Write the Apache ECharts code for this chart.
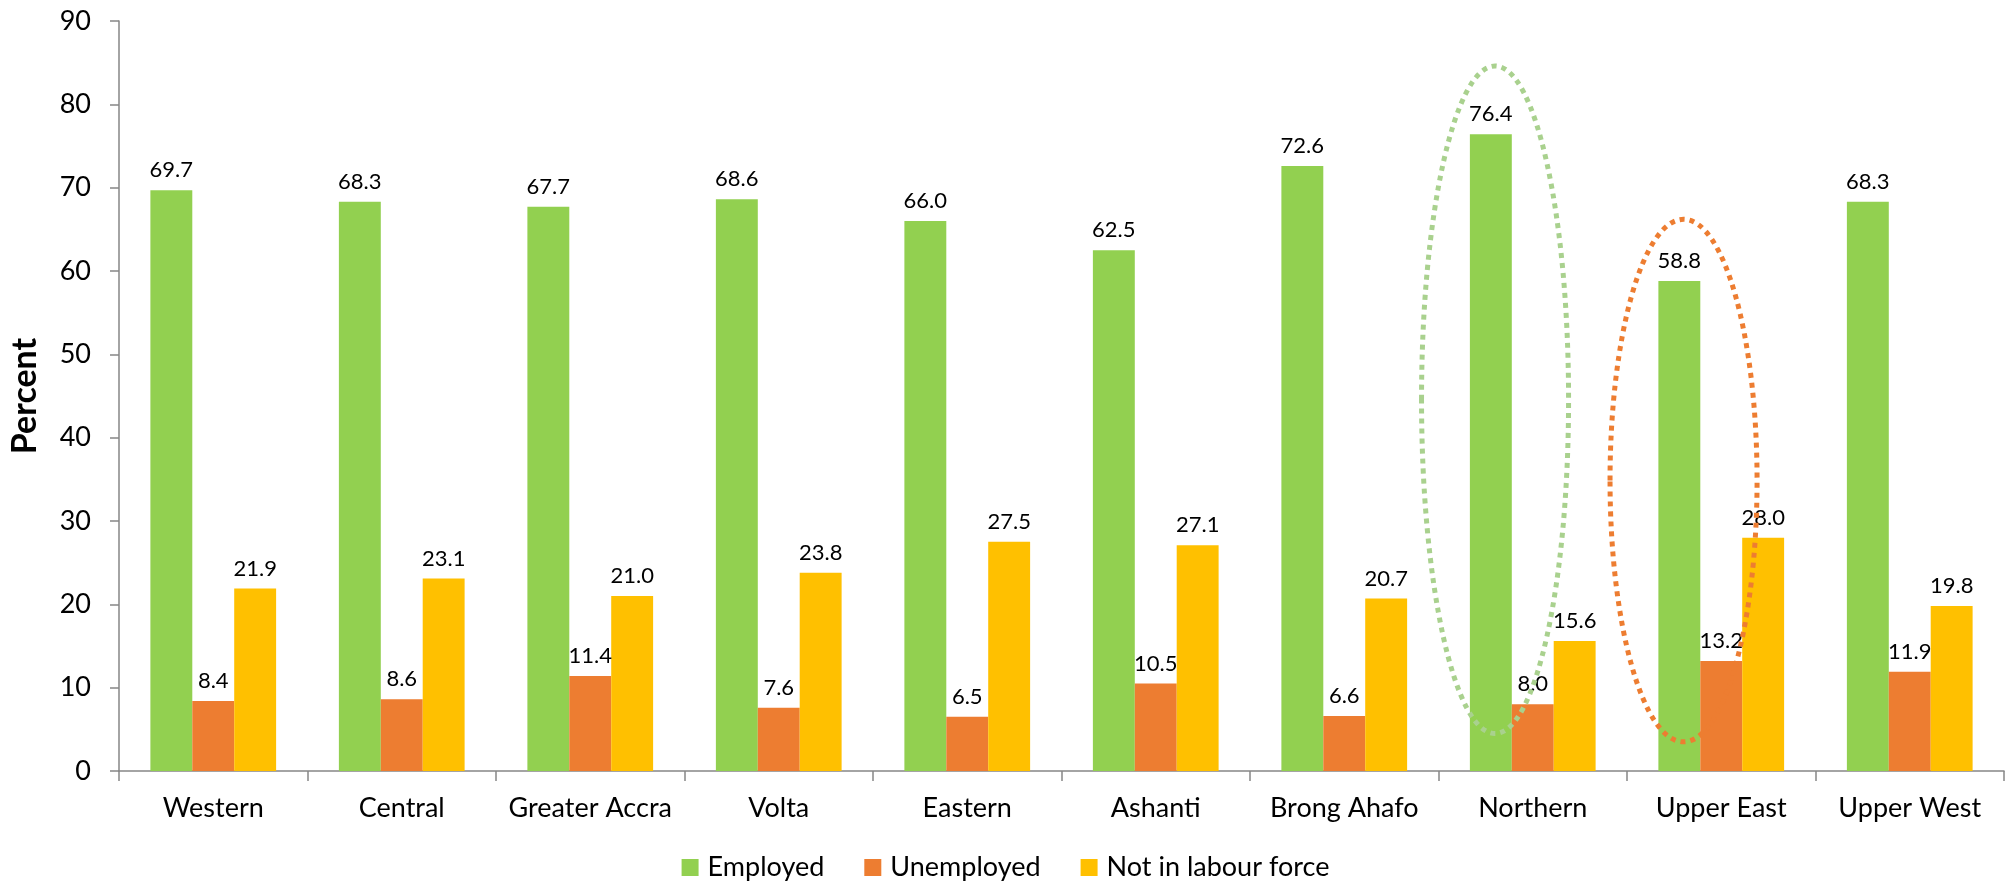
<!DOCTYPE html>
<html>
<head>
<meta charset="utf-8">
<script src="https://cdn.jsdelivr.net/npm/echarts@6/dist/echarts.min.js"></script>
<style>
  html, body { margin: 0; padding: 0; background: #fff; }
  #chart { width: 2011px; height: 883px; }
</style>
</head>
<body>
<div id="chart"></div>
<script>
var regions = ['Western', 'Central', 'Greater Accra', 'Volta', 'Eastern', 'Ashanti', 'Brong Ahafo', 'Northern', 'Upper East', 'Upper West'];
var employed = [69.7, 68.3, 67.7, 68.6, 66.0, 62.5, 72.6, 76.4, 58.8, 68.3];
var unemployed = [8.4, 8.6, 11.4, 7.6, 6.5, 10.5, 6.6, 8.0, 13.2, 11.9];
var notInLabour = [21.9, 23.1, 21.0, 23.8, 27.5, 27.1, 20.7, 15.6, 28.0, 19.8];
var yTicks = [0, 10, 20, 30, 40, 50, 60, 70, 80, 90];

// dotted ellipses drawn round two regions (value range they cover)
var circledRegions = ['Northern', 'Upper East'];
var circledLow = [4.5, 3.5];
var circledHigh = [84.6, 66.2];
var circledColors = ['#A9D18E', '#ED7D31'];

var font = 'Lato';
var chart = echarts.init(document.getElementById('chart'));

function barSeries(name, data, color) {
  return {
    name: name,
    type: 'bar',
    data: data,
    barGap: 0,
    barCategoryGap: '33.3%',
    itemStyle: { color: color },
    label: {
      show: true,
      position: 'top',
      distance: 9,
      color: '#000',
      fontFamily: font,
      fontSize: 22,
      formatter: function (p) { return p.value.toFixed(1); }
    }
  };
}

var options = {
  animation: false,
  backgroundColor: '#fff',
  grid: { left: 114, right: 7, top: 21, bottom: 112 },
  legend: {
    top: 854,
    left: 'center',
    padding: 0,
    icon: 'rect',
    itemWidth: 17,
    itemHeight: 17,
    itemGap: 40,
    textStyle: { fontFamily: font, fontSize: 27, color: '#000', padding: [0, 0, 0, 4] },
    data: ['Employed', 'Unemployed', 'Not in labour force']
  },
  xAxis: {
    type: 'category',
    data: regions,
    axisLine: { lineStyle: { color: '#868686', width: 1.5 } },
    axisTick: { show: true, length: 10, lineStyle: { color: '#868686', width: 1.5 } },
    axisLabel: { color: '#000', fontFamily: font, fontSize: 27, margin: 24, interval: 0 }
  },
  yAxis: {
    type: 'value',
    min: yTicks[0],
    max: yTicks[yTicks.length - 1],
    interval: 10,
    name: 'Percent',
    nameLocation: 'middle',
    nameGap: 77,
    nameRotate: 90,
    nameTextStyle: { fontFamily: font, fontSize: 34, fontWeight: 'bold', color: '#000' },
    axisLine: { show: true, lineStyle: { color: '#868686', width: 1.5 } },
    axisTick: { show: true, length: 9, lineStyle: { color: '#868686', width: 1.5 } },
    splitLine: { show: false },
    axisLabel: { color: '#000', fontFamily: font, fontSize: 27, margin: 28 }
  },
  series: [
    barSeries('Employed', employed, '#92D050'),
    barSeries('Unemployed', unemployed, '#ED7D31'),
    barSeries('Not in labour force', notInLabour, '#FFC000'),
    {
      type: 'custom',
      silent: true,
      z: 10,
      data: circledRegions.map(function (r, i) {
        return [regions.indexOf(r), circledLow[i], circledHigh[i], i];
      }),
      renderItem: function (params, api) {
        var top = api.coord([api.value(0), api.value(2)]);
        var bottom = api.coord([api.value(0), api.value(1)]);
        var band = api.size([1, 0])[0];
        return {
          type: 'ellipse',
          shape: {
            cx: top[0] - 0.2 * band,
            cy: (top[1] + bottom[1]) / 2,
            rx: 0.39 * band,
            ry: (bottom[1] - top[1]) / 2
          },
          style: {
            fill: 'none',
            stroke: circledColors[api.value(3)],
            lineWidth: 5,
            lineDash: [5, 5]
          }
        };
      }
    }
  ]
};
chart.setOption(options);
</script>
</body>
</html>
